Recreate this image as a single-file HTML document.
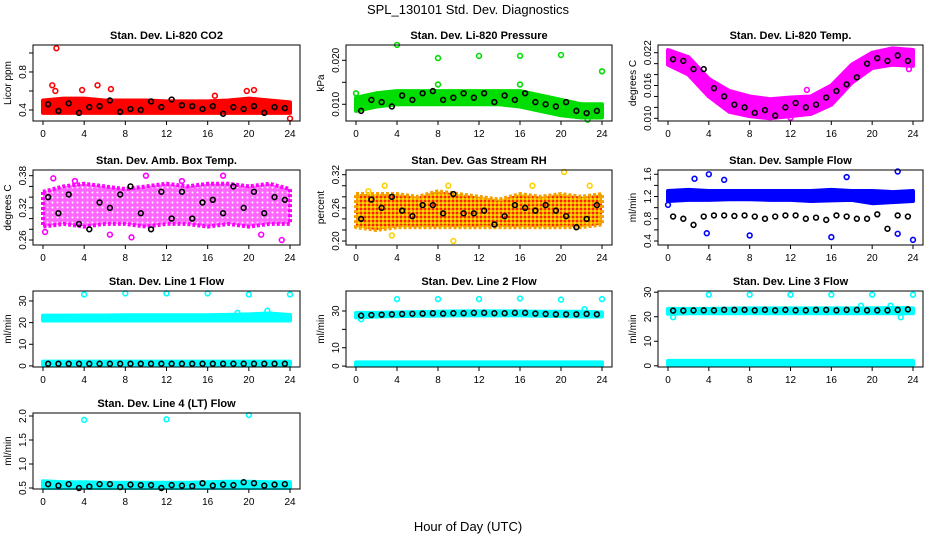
<!DOCTYPE html>
<html><head><meta charset="utf-8">
<style>
html,body{margin:0;padding:0;background:#fff;}
svg{display:block;font-family:"Liberation Sans",Arial,sans-serif;}
</style></head>
<body>
<svg id="chart" width="936" height="540" viewBox="0 0 936 540" xmlns="http://www.w3.org/2000/svg">
<defs>
<pattern id="pat-amb" width="5" height="5" patternUnits="userSpaceOnUse">
<rect width="5" height="5" fill="#ff66ff"/>
<circle cx="2.5" cy="2.5" r="1" fill="#ffffff"/>
</pattern>
<pattern id="pat-rh" width="4" height="4" patternUnits="userSpaceOnUse">
<rect width="4" height="4" fill="#f5a000"/>
<rect x="0" y="0" width="2" height="2" fill="#ff2000"/>
<rect x="2" y="2" width="2" height="2" fill="#ffd800"/>
</pattern>
</defs>
<text x="468" y="14" text-anchor="middle" font-size="13">SPL_130101  Std. Dev. Diagnostics</text>
<text x="468" y="531" text-anchor="middle" font-size="13">Hour of Day (UTC)</text>
</svg>
<script>
// shared knots / sample hours
const knotHours = [0,2,4,6,8,10,12,14,16,18,20,22,24];
const blackHours = [0.5,1.5,2.5,3.5,4.5,5.5,6.5,7.5,8.5,9.5,10.5,11.5,12.5,13.5,14.5,15.5,16.5,17.5,18.5,19.5,20.5,21.5,22.5,23.5];
const xTicks = [0,4,8,12,16,20,24];

// CO2
const co2Lo = [0.37,0.37,0.37,0.37,0.37,0.37,0.37,0.37,0.37,0.37,0.37,0.37,0.37];
const co2Hi = [0.50,0.52,0.52,0.50,0.50,0.50,0.49,0.49,0.49,0.50,0.52,0.50,0.48];
const co2Black = [0.46,0.39,0.47,0.37,0.43,0.44,0.50,0.38,0.41,0.40,0.49,0.43,0.51,0.45,0.44,0.41,0.44,0.36,0.43,0.41,0.44,0.37,0.43,0.42];
const co2OutX = [1.3,0.9,5.3,6.6,3.8,20.5,19.8,16.7,24,1.2];
const co2OutY = [1.05,0.66,0.66,0.62,0.61,0.61,0.60,0.55,0.31,0.60];
// Pressure
const presLo = [0.0085,0.0095,0.010,0.010,0.010,0.010,0.010,0.010,0.0095,0.0085,0.0075,0.007,0.007];
const presHi = [0.0115,0.0125,0.013,0.013,0.013,0.013,0.013,0.013,0.013,0.012,0.011,0.010,0.010];
const presBlack = [0.0085,0.011,0.0105,0.0095,0.012,0.011,0.0125,0.013,0.011,0.0115,0.0125,0.0115,0.0125,0.0105,0.012,0.011,0.0125,0.0105,0.010,0.0095,0.0105,0.0085,0.008,0.0085];
const presOutX = [4,8,12,16,20,24,0,8,16,22.6];
const presOutY = [0.0235,0.0205,0.021,0.021,0.0212,0.0175,0.0125,0.0145,0.0145,0.0065];
// Li-820 temp
const tempLo = [0.0198,0.0180,0.0140,0.0112,0.0104,0.0100,0.0104,0.0108,0.0125,0.0165,0.0192,0.0198,0.0196];
const tempHi = [0.0225,0.0212,0.0172,0.0150,0.0140,0.0135,0.0138,0.0140,0.0160,0.0198,0.0220,0.0228,0.0225];
const tempBlack = [0.0208,0.0205,0.0190,0.0190,0.0155,0.0140,0.0125,0.0120,0.0110,0.0115,0.0105,0.0120,0.0128,0.0120,0.0125,0.0138,0.0150,0.0162,0.0175,0.0200,0.0210,0.0205,0.0215,0.0205];
const tempOutX = [0.3,13.6,12,15.8,23.6];
const tempOutY = [0.0215,0.0152,0.0101,0.0130,0.0190];
// Amb box temp
const ambLo = [0.285,0.290,0.285,0.290,0.290,0.285,0.290,0.290,0.285,0.290,0.285,0.290,0.290];
const ambHi = [0.350,0.360,0.365,0.360,0.355,0.360,0.365,0.360,0.365,0.365,0.360,0.365,0.355];
const ambBlack = [0.34,0.31,0.345,0.29,0.28,0.33,0.32,0.345,0.36,0.31,0.28,0.35,0.30,0.35,0.30,0.33,0.335,0.31,0.36,0.32,0.35,0.31,0.34,0.335];
const ambOutX = [1,8.6,17.5,23.2,6.5,10,0.2,3.1,13.5,21.2];
const ambOutY = [0.375,0.265,0.38,0.26,0.27,0.38,0.275,0.37,0.37,0.27];
// Gas stream RH
const rhLo = [0.225,0.220,0.225,0.225,0.225,0.225,0.225,0.225,0.225,0.225,0.225,0.225,0.230];
const rhHi = [0.285,0.285,0.285,0.280,0.290,0.285,0.280,0.275,0.285,0.280,0.285,0.280,0.285];
const rhBlack = [0.24,0.275,0.26,0.28,0.255,0.245,0.265,0.265,0.25,0.285,0.25,0.25,0.255,0.23,0.245,0.265,0.26,0.255,0.265,0.255,0.245,0.225,0.24,0.265];
const rhOutX = [20.3,2.8,9.5,17.2,22.8,3.5,9,1.2];
const rhOutY = [0.325,0.30,0.20,0.30,0.30,0.21,0.30,0.29];
// Sample flow
const sfLo = [1.12,1.14,1.14,1.15,1.15,1.14,1.14,1.12,1.13,1.14,1.08,1.10,1.12];
const sfHi = [1.30,1.32,1.30,1.30,1.30,1.30,1.30,1.30,1.32,1.30,1.30,1.28,1.30];
const sfBlack = [0.84,0.80,0.69,0.84,0.86,0.86,0.85,0.86,0.84,0.80,0.84,0.86,0.86,0.80,0.82,0.78,0.86,0.84,0.80,0.80,0.88,0.62,0.86,0.84];
const sfOutX = [4,3.8,8,16,22.5,22.5,24,17.5,5.5,0,2.6];
const sfOutY = [1.6,0.54,0.5,0.47,1.65,0.53,0.42,1.55,1.5,1.05,1.52];
// Line 1 flow
const l1Lo = [21,21,21,21,21,21,21,21,21,21,21,21,21];
const l1Hi = [23.2,23.2,23.3,23.3,23.4,23.4,23.4,23.4,23.4,23.6,23.8,24.2,23.5];
const l1LowLo = [0.6,0.6,0.6,0.6,0.6,0.6,0.6,0.6,0.6,0.6,0.6,0.6,0.6];
const l1LowHi = [2,2,2,2,2,2,2,2,2,2,2,2,2];
const l1Black = [1,1,1,1,1,1,1,1,1,1,1,1,1,1,1,1,1,1,1,1,1,1,1,1];
const l1OutX = [4,8,12,16,20,24,21.8,18.9];
const l1OutY = [33,33.5,33.5,33.5,33,33,25.5,24.5];
// Line 2 flow
const l2Lo = [26.5,27,27.2,27.4,27.5,27.6,27.6,27.6,27.6,27.4,27.2,27,27];
const l2Hi = [29,29,29.2,29.4,29.6,29.8,29.8,29.8,29.8,29.6,29.6,29.6,29.2];
const l2LowLo = [0.5,0.5,0.5,0.5,0.5,0.5,0.5,0.5,0.5,0.5,0.5,0.5,0.5];
const l2LowHi = [2,2,2,2,2,2,2,2,2,2,2,2,2];
const l2Black = [27.5,27.8,28,28.2,28.4,28.5,28.6,28.8,28.6,28.8,28.8,29,29,28.8,28.8,29,29,28.6,28.4,28.2,28.2,28.2,28.4,28.2];
const l2OutX = [4,8,12,16,20,24,22.3,0.5];
const l2OutY = [36.5,36.5,36.5,36.8,36.2,36.5,31,25.5];
// Line 3 flow
const l3Lo = [21.2,21.4,21.4,21.4,21.4,21.4,21.4,21.4,21.4,21.4,21.4,21.4,21.4];
const l3Hi = [23.2,23.2,23.2,23.3,23.4,23.4,23.4,23.4,23.4,23.4,23.4,23.6,23.4];
const l3LowLo = [0.3,0.3,0.3,0.3,0.3,0.3,0.3,0.3,0.3,0.3,0.3,0.3,0.3];
const l3LowHi = [2,2,2,2,2,2,2,2,2,2,2,2,2];
const l3Black = [22.5,22.5,22.6,22.6,22.6,22.8,22.8,22.8,22.6,22.8,22.6,22.8,22.6,22.6,22.8,22.8,22.6,22.8,22.8,22.6,22.6,22.6,22.8,23];
const l3OutX = [4,8,12,16,20,24,0.5,22.8,18.9,21.8];
const l3OutY = [29,29,29,29,29,29,19.8,19.8,24.5,24.5];
// Line 4 flow
const l4Lo = [0.50,0.50,0.50,0.50,0.50,0.50,0.50,0.50,0.50,0.50,0.50,0.50,0.50];
const l4Hi = [0.64,0.62,0.62,0.61,0.61,0.61,0.61,0.61,0.62,0.63,0.63,0.62,0.62];
const l4Black = [0.58,0.55,0.58,0.50,0.53,0.58,0.58,0.52,0.57,0.56,0.56,0.50,0.56,0.55,0.54,0.60,0.55,0.57,0.56,0.62,0.60,0.55,0.57,0.58];
const l4OutX = [4,12,20];
const l4OutY = [1.92,1.93,2.02];

const NS = 'http://www.w3.org/2000/svg';
const svg = document.getElementById('chart');
function mk(tag, attrs, parent){ const e=document.createElementNS(NS,tag); for(const k in attrs) e.setAttribute(k,attrs[k]); (parent||svg).appendChild(e); return e; }

const cols=[{x:33,w:267},{x:346,w:266},{x:658,w:265}];
const rows=[{y:45,h:76},{y:170,h:75},{y:291,h:76},{y:413,h:76}];

const panels=[
 {key:'co2',title:'Stan. Dev. Li-820 CO2',r:0,c:0,dom:[0.284,1.084],ticks:[0.4,0.6,0.8,1.0],labels:['0.4','','0.8',''],ylab:'Licor ppm',color:'#ff0000',bands:[[co2Lo,co2Hi]],black:co2Black,ox:co2OutX,oy:co2OutY},
 {key:'pressure',title:'Stan. Dev. Li-820 Pressure',r:0,c:1,dom:[0.0062,0.02348],ticks:[0.010,0.015,0.020],labels:['0.010','','0.020'],ylab:'kPa',color:'#00dd00',bands:[[presLo,presHi]],black:presBlack,ox:presOutX,oy:presOutY},
 {key:'li820-temp',title:'Stan. Dev. Li-820 Temp.',r:0,c:2,dom:[0.00951,0.02341],ticks:[0.010,0.012,0.014,0.016,0.018,0.020,0.022],labels:['0.010','','','0.016','','','0.022'],ylab:'degrees C',color:'#ff00ff',bands:[[tempLo,tempHi]],black:tempBlack,ox:tempOutX,oy:tempOutY},
 {key:'amb-box-temp',title:'Stan. Dev. Amb. Box Temp.',r:1,c:0,dom:[0.2507,0.3906],ticks:[0.26,0.28,0.30,0.32,0.34,0.36,0.38],labels:['0.26','','','0.32','','','0.38'],ylab:'degrees C',color:'#ff00ff',fill:'url(#pat-amb)',bands:[[ambLo,ambHi]],black:ambBlack,ox:ambOutX,oy:ambOutY},
 {key:'gas-stream-rh',title:'Stan. Dev. Gas Stream RH',r:1,c:1,dom:[0.1928,0.3285],ticks:[0.20,0.22,0.24,0.26,0.28,0.30,0.32],labels:['0.20','','','0.26','','','0.32'],ylab:'percent',color:'#f5a000',fill:'url(#pat-rh)',pt:'#ffd000',bands:[[rhLo,rhHi]],black:rhBlack,ox:rhOutX,oy:rhOutY},
 {key:'sample-flow',title:'Stan. Dev. Sample Flow',r:1,c:2,dom:[0.328,1.677],ticks:[0.4,0.6,0.8,1.0,1.2,1.4,1.6],labels:['0.4','','0.8','','1.2','','1.6'],ylab:'ml/min',color:'#0000ff',bands:[[sfLo,sfHi]],black:sfBlack,ox:sfOutX,oy:sfOutY},
 {key:'line1-flow',title:'Stan. Dev. Line 1 Flow',r:2,c:0,dom:[-0.5,34.6],ticks:[0,10,20,30],labels:['0','10','20','30'],ylab:'ml/min',color:'#00ffff',bands:[[l1Lo,l1Hi],[l1LowLo,l1LowHi]],black:l1Black,ox:l1OutX,oy:l1OutY},
 {key:'line2-flow',title:'Stan. Dev. Line 2 Flow',r:2,c:1,dom:[-0.5,40.9],ticks:[0,10,20,30],labels:['0','10','','30'],ylab:'ml/min',color:'#00ffff',bands:[[l2Lo,l2Hi],[l2LowLo,l2LowHi]],black:l2Black,ox:l2OutX,oy:l2OutY},
 {key:'line3-flow',title:'Stan. Dev. Line 3 Flow',r:2,c:2,dom:[-0.5,30.5],ticks:[0,10,20,30],labels:['0','10','20','30'],ylab:'ml/min',color:'#00ffff',bands:[[l3Lo,l3Hi],[l3LowLo,l3LowHi]],black:l3Black,ox:l3OutX,oy:l3OutY},
 {key:'line4-flow',title:'Stan. Dev. Line 4 (LT) Flow',r:3,c:0,dom:[0.479,2.0625],ticks:[0.5,1.0,1.5,2.0],labels:['0.5','1.0','1.5','2.0'],ylab:'ml/min',color:'#00ffff',bands:[[l4Lo,l4Hi]],black:l4Black,ox:l4OutX,oy:l4OutY}
];

panels.forEach(p=>{
  const bx=cols[p.c].x, bw=cols[p.c].w, by=rows[p.r].y, bh=rows[p.r].h;
  const xs=h=>bx+10+(bw-20)*h/24;
  const ys=v=>by+bh-(v-p.dom[0])/(p.dom[1]-p.dom[0])*bh;
  const g=mk('g',{});
  
  
  const t=mk('text',{x:bx+bw/2,y:by-6,'text-anchor':'middle','font-size':'11','font-weight':'bold'},g);
  
  
  t.textContent=p.title;
  const clip=mk('g',{},g);
  p.bands.forEach(b=>{
    let pts=knotHours.map((h,i)=>xs(h)+','+ys(b[1][i]));
    pts=pts.concat(knotHours.slice().reverse().map((h,j)=>{const i=knotHours.length-1-j;return xs(h)+','+ys(b[0][i]);}));
    const poly=mk('polygon',{points:pts.join(' '),fill:p.fill||p.color,stroke:p.color,'stroke-width':'4','stroke-linejoin':'round','stroke-dasharray':p.fill?'3 2':'none'},clip);
    
    
  });
  p.ox.forEach((h,i)=>{
    const c=mk('circle',{cx:xs(h),cy:ys(p.oy[i]),r:2.4,fill:'none',stroke:p.pt||p.color,'stroke-width':'1.6'},clip);
    
    
  });
  p.black.forEach((v,i)=>{
    const c=mk('circle',{cx:xs(blackHours[i]),cy:ys(v),r:2.4,fill:'none',stroke:'#000','stroke-width':'1.6'},clip);
    
    
  });
  const box=mk('rect',{x:bx,y:by,width:bw,height:bh,fill:'none',stroke:'#000','stroke-width':'1'},g);
  
  
  xTicks.forEach(h=>{
    mk('line',{x1:xs(h),x2:xs(h),y1:by+bh,y2:by+bh+4,stroke:'#000'},g);
    const l=mk('text',{x:xs(h),y:by+bh+16,'text-anchor':'middle','font-size':'10'},g);
    
    
    l.textContent=h;
  });
  p.ticks.forEach((v,i)=>{
    const y=ys(v);
    mk('line',{x1:bx-4,x2:bx,y1:y,y2:y,stroke:'#000'},g);
    if(p.labels[i]){
      const l=mk('text',{x:0,y:0,'text-anchor':'middle','font-size':'10',transform:'translate('+(bx-7)+','+y+') rotate(-90)'},g);
      
      
      l.textContent=p.labels[i];
    }
  });
  const yl=mk('text',{x:0,y:0,'text-anchor':'middle','font-size':'10',transform:'translate('+(bx-22)+','+(by+bh/2)+') rotate(-90)'},g);
  
  
  yl.textContent=p.ylab;
});
</script>
</body></html>
